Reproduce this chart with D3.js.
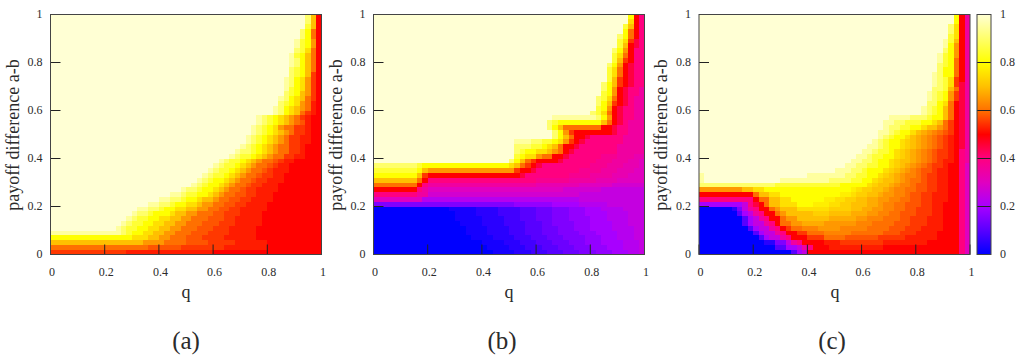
<!DOCTYPE html>
<html>
<head>
    <meta charset="utf-8">
    <title>payoff difference vs q</title>
    <script src="https://d3js.org/d3.v7.min.js"></script>
    <style>
        body { margin: 0; background: #fff; }
        svg { display: block; }
        text { font-family: "Liberation Serif", serif; fill: #2b2b2b; }
        .tick line { stroke: #222; stroke-width: 1px; }
        .tick text { font-size: 12px; }
        .frame { fill: none; stroke: #444; stroke-width: 1px; }
    </style>
</head>
<body>
<div id="chart"></div>
<script>
// each row is one a-b level, top row first. token = level char + column where it stops
// lower case / digits are value*20 (0 = 0, a = 0.5, k = 1), capitals sit half a step above (A = 0.025, K = 0.525)
const fullLevels = "0123456789abcdefghijk";
const halfLevels = "ABCDEFGHIJKLMNOPQRST";

const panelARows = [
    "k47 i48 e49 a", "k47 i48 e49 a", "k47 h48 e49 a", "k46 i47 g48 c49 a", "k46 i47 g48 c49 a",
    "k45 j46 h47 g48 d49 a", "k45 j46 h47 g48 d49 a", "k45 i46 h47 f48 c49 a", "k44 j45 h46 g47 e48 c49 a", "k44 j45 i46 g47 e48 c49 a",
    "k44 j45 i46 g47 e48 c49 a", "k44 i45 h46 g47 e48 c49 a", "k44 i45 h46 g47 e48 b49 a", "k43 j44 i45 g46 f47 d48 b49 a", "k43 j44 i45 g46 f47 d48 b49 a",
    "k43 j44 h45 g46 f47 d48 b49 a", "k43 i44 h45 g46 e47 d48 b49 a", "k42 j43 i44 g45 f46 e47 c48 b49 a", "k42 i43 h44 g45 f46 d47 c48 K49 a", "k41 j42 i43 g44 f45 e46 d47 c48 K49 a",
    "k41 j42 i43 g44 f45 e46 c47 b48 K49 a", "k38 j39 i40 h41 g42 f43 e44 d45 c46 b47 K48 a", "k38 j39 i40 h41 g42 f43 e44 d45 c46 L47 K48 a", "k37 j38 i39 h40 g41 f42 d43 c45 b47 K48 a", "k37 j38 i39 h40 g41 f42 e43 d44 c45 b47 K48 a",
    "k36 j37 i38 h39 g40 f41 e42 d43 c44 b46 K48 a", "k36 j37 i38 h39 g40 f41 e42 d43 c44 b46 K48 a", "k35 j36 i37 h38 g39 f40 e41 d42 c44 b46 K47 a", "k34 j35 i37 h38 g39 f40 e41 d42 c44 b46 K47 a", "k33 j34 i35 h37 g38 f39 e40 d41 c43 b45 K47 a",
    "k31 j32 i33 h35 g36 f37 e38 d39 c41 L42 b43 K45 a", "k30 j31 i32 h34 g35 f36 e37 d38 c40 L41 b42 K44 a", "k29 j30 i31 h33 g34 f35 e36 d37 c39 L40 b41 K44 a", "k28 j29 i30 h32 g33 f34 e35 d36 c38 L39 b41 K43 a", "k27 j28 i29 h30 g32 f33 e34 d35 c37 L38 b40 K43 a",
    "k26 j27 i28 h29 g31 f32 e33 d34 c36 L37 b39 K42 a", "k24 j25 i27 h28 g30 f31 e32 d33 c35 L36 b38 K42 a", "k22 j24 i25 h27 g29 f30 e31 d32 c34 L36 b38 K41 a", "k20 j22 i24 h25 g27 f28 e30 d31 c33 L35 b37 K41 a", "k18 j20 i22 h23 g25 f27 e28 d30 c32 L34 b36 K40 a",
    "k16 j18 i20 h21 g23 f25 e27 d29 c31 L33 b35 K40 a", "k15 j16 i18 h19 g22 f23 e25 d27 c30 L32 b35 K39 a", "k14 j15 i16 h18 g20 f22 e24 d26 c29 L32 b34 K39 a", "k13 j14 i15 h17 g19 f21 e23 d25 c28 L31 b34 K39 a", "k12 j13 i14 h16 g18 f20 e22 d24 c27 L30 b33 K38 a",
    "j13 i14 h15 g17 f19 e21 d23 c26 L29 b33 K38 a", "g15 f18 e20 d22 c25 L28 b32 K38 a", "e17 d21 c25 L29 b34 K40 a", "c18 L24 b32 K40 a", "b14 K30 a"
];
const panelBRows = [
    "k47 g48 a49 8", "k47 f48 a49 8", "k46 h47 e48 a49 8", "k46 g47 c48 a49 8", "k45 i46 g47 c48 a49 8",
    "k45 h46 f47 b48 949 8", "k45 h46 e47 a48 949 8", "k44 i45 g46 d47 a48 8", "k44 h45 f46 c47 a48 8", "k44 h45 e46 b47 a48 8",
    "k43 i44 g45 d46 a47 948 8", "k43 h44 f45 c46 a47 948 8", "k43 h44 f45 c46 a47 948 8", "k43 h44 e45 b46 a47 948 8", "k42 i43 g44 e45 b46 a47 948 8",
    "k42 i43 g44 d45 a46 947 849 7", "k42 h43 g44 d45 a46 947 849 7", "k41 i42 h43 f44 c45 a46 947 848 7", "k41 i42 g43 e44 b45 a46 947 848 7", "k41 h42 g43 d44 a45 946 848 7",
    "k40 i41 h42 f43 c44 a45 946 848 7", "k33 j41 i42 g43 d44 a45 946 848 7", "k32 i33 h34 g42 e43 c44 a45 946 847 7", "k32 i33 g34 e35 c42 a44 945 847 7", "k33 i34 g35 d36 b37 a44 945 847 7",
    "k33 i34 g35 e36 c37 a39 940 846 7", "k26 j29 i31 h33 g34 f35 d36 b37 a38 939 846 7", "k26 i29 h31 g32 f33 e34 c35 a37 938 845 7", "k26 i27 h28 g30 f32 e33 d34 c35 a36 937 845 7", "k26 h27 g28 f30 d31 c33 a35 936 842 H45 748 G",
    "k25 i26 g27 e28 c29 b30 a34 935 841 H44 747 G49 6", "i8 h9 g25 f26 e27 c28 b29 a30 931 840 H43 746 G49 6", "h8 g9 e10 d26 b27 a29 930 838 H42 745 G48 6", "g8 e9 b10 a27 928 836 H40 744 G47 6", "e8 c9 a10 830 H36 741 G45 6",
    "c8 a9 810 730 G38 644 F", "a8 89 710 635 F42 5", "88 710 F38 5", "69 E38 5", "326 D33 438 E43 5",
    "014 A19 123 B27 230 C33 336 D39 442 E46 5", "015 A19 123 B27 230 C33 336 D39 443 E47 5", "015 A20 124 B27 230 C33 336 D40 443 E47 5", "016 A20 124 B28 231 C33 337 D40 444 E47 5", "017 A21 125 B28 231 C34 337 D40 444 E48 5",
    "017 A21 125 B28 231 C34 338 D41 445 E48 5", "018 A22 126 B29 232 C35 339 D42 445 E48 5", "020 A24 127 B30 233 C36 339 D42 446 E49 5", "021 A25 128 B31 234 C37 340 D43 446 E49 5", "022 A26 129 B32 235 C38 341 D44 447 E49 5"
];
const panelCRows = [
    "k47 g48 a49 7", "k47 g48 a49 7", "k46 i47 f48 a49 7", "k46 i47 f48 a49 7", "k46 h47 f48 a49 7",
    "k45 j46 h47 e48 a49 7", "k45 j46 g47 d48 a49 7", "k45 i46 g47 d48 a49 7", "k44 j45 h46 g47 d48 a49 7", "k44 j45 h46 g47 c48 a49 7",
    "k44 i45 h46 g47 c48 a49 7", "k44 i45 g47 c48 a49 7", "k43 j44 i45 g47 c48 a49 7", "k43 j44 i45 h46 f47 b48 a49 7", "k43 j44 i45 h46 f47 b48 949 7",
    "k43 i45 h46 e47 c48 949 7", "k42 j43 i44 h45 g46 d47 b48 949 7", "k42 j43 i44 h45 g46 d47 b48 949 7", "k42 i44 g45 f46 c47 a48 949 7", "k41 j42 i43 h44 g45 e46 c47 a48 949 7",
    "k41 j42 i43 h44 g45 e46 c47 a48 949 7", "k35 j39 i42 h43 g45 e46 c47 a48 949 7", "k34 j36 i38 h41 g43 f44 e45 c46 b47 a48 949 7", "k34 j35 i37 h39 g41 f42 e44 d45 c46 b47 a48 949 7", "k33 j35 i36 h37 g39 f40 e41 N42 d43 M44 c45 L46 b47 a48 949 7",
    "k33 j34 i35 h36 g38 f39 e40 N41 d42 M43 c44 L45 b46 K47 a48 949 7", "k32 j33 i34 h35 g37 f38 O39 e40 N41 d42 M43 c44 L45 b46 K47 a48 949 7", "k31 j33 i34 h35 g37 f38 O39 e40 N41 d42 M43 c44 L45 b46 K47 a48 949 7", "k30 j32 i33 h35 g36 f37 O38 e39 N40 d41 M42 c43 L44 b46 K47 a48 849 7", "k29 j31 i32 h34 g36 f37 O38 e39 N40 d41 M42 c43 L44 b46 K47 a48 849 7",
    "k28 j30 i32 h33 g35 f36 O37 e39 N40 d41 M42 c43 L44 b45 K47 a48 849 7", "k27 j29 i31 h33 g35 f36 O37 e38 N39 d40 M41 c42 L43 b45 K46 a48 849 6", "k25 j28 i30 h31 g34 f35 O36 e37 N38 d39 M40 c41 L43 b44 K46 a48 849 6", "j1 k20 j27 i29 h31 g33 f34 O35 e36 N37 d38 M40 c41 L42 b44 K46 a48 849 6", "j1 k15 j24 i28 h30 g32 f33 O34 e36 N37 d38 M39 c41 L42 b44 K46 a48 849 6",
    "i14 h26 g31 f32 O33 e35 N36 d37 M39 c40 L42 b44 K46 a48 849 6", "d8 e10 f12 g28 P29 f30 O32 e34 N35 d36 M38 c40 L42 b44 K46 a48 849 6", "a10 c11 e13 f15 g26 P28 f29 O31 e33 N34 d36 M38 c39 L41 b43 K46 a48 849 6", "810 a11 c13 e15 f17 g23 P25 f27 O29 e31 N33 d35 M37 c39 L41 b43 K46 a48 849 6", "48 59 810 911 a12 c13 e15 f18 g21 P24 f26 O28 e31 N33 d34 M36 c38 L41 b43 K45 a48 849 6",
    "06 17 38 59 710 811 a13 c14 d15 e18 f24 O28 e30 N32 d34 M36 c38 L40 b43 K45 a48 849 6", "07 28 49 510 711 812 a14 c15 d16 e21 O24 e28 N31 d33 M35 c37 L40 b43 K45 a48 849 6", "08 29 410 511 712 813 a15 c16 d18 e24 N29 d31 M34 c37 L39 b42 K45 a48 849 6", "08 29 410 512 713 814 a15 c17 d19 N23 d29 M32 c36 L39 b42 K45 a48 849 6", "09 210 411 513 714 815 a16 b17 c19 M22 d26 M31 c35 L38 b41 K45 a48 849 6",
    "010 211 412 514 715 816 a18 b20 c23 M28 c34 L37 b40 K44 a48 849 6", "011 212 413 515 716 817 a20 b23 c27 L33 b38 K44 a48 849 6", "012 114 316 517 718 819 a23 K26 b34 K42 a48 849 6", "014 216 418 519 720 821 a24 K34 a48 849 6", "017 218 419 520 a48 849 6"
];

const xTicks = [0, 0.2, 0.4, 0.6, 0.8, 1];
const yTicks = [0, 0.2, 0.4, 0.6, 0.8, 1];
const panelLabels = ["(a)", "(b)", "(c)"];
const paletteStops = [0, 0.1, 0.2, 0.3, 0.4, 0.5, 0.6, 0.7, 0.8, 1];
const paletteColors = ["#0000ff", "#5800ff", "#a800ff", "#e000c0", "#ff0080", "#ff0000", "#ff7000", "#ffc000", "#ffff00", "#ffffd4"];

const width = 1024, height = 360;
const plotW = 271, plotH = 240, plotTop = 14.5;
const nCols = 50, nRows = 50;

const color = d3.scaleLinear().domain(paletteStops).range(paletteColors);

function levelValue(ch) {
    const i = fullLevels.indexOf(ch);
    return i >= 0 ? i / 20 : (halfLevels.indexOf(ch) + 0.5) / 20;
}

function decodeRow(row) {
    let cells = [], start = 0;
    row.split(" ").forEach(tok => {
        let end = tok.length > 1 ? +tok.slice(1) : nCols;
        for (let c = start; c < end; c++) cells.push(levelValue(tok[0]));
        start = end;
    });
    return cells;
}

const svg = d3.select("#chart").append("svg").attr("width", width).attr("height", height);
const defs = svg.append("defs");
defs.append("filter").attr("id", "soften")
    .append("feGaussianBlur").attr("stdDeviation", 0.55);

const panels = [
    {rows: panelARows, left: 50.5, labelX: 186, tagX: 186},
    {rows: panelBRows, left: 373.5, labelX: 509, tagX: 502},
    {rows: panelCRows, left: 699, labelX: 835, tagX: 832}
];

panels.forEach((p, i) => {
    const x = d3.scaleLinear().domain([0, 1]).range([p.left, p.left + plotW]);
    const y = d3.scaleLinear().domain([0, 1]).range([plotTop + plotH, plotTop]);
    const g = svg.append("g");

    defs.append("clipPath").attr("id", "plot" + i).append("rect")
        .attr("x", p.left).attr("y", plotTop).attr("width", plotW).attr("height", plotH);

    const heat = g.append("g").attr("clip-path", `url(#plot${i})`)
        .append("g").attr("filter", "url(#soften)");

    p.rows.forEach((row, n) => {
        heat.append("g").selectAll("rect")
            .data(decodeRow(row))
            .enter()
            .append("rect")
            .attr("x", (d, c) => x(c / nCols))
            .attr("y", y(1 - n / nRows))
            .attr("width", plotW / nCols + 0.5)
            .attr("height", plotH / nRows + 0.5)
            .attr("shape-rendering", "crispEdges")
            .attr("fill", d => color(d));
    });

    g.append("g")
        .attr("transform", `translate(0,${plotTop + plotH})`)
        .call(d3.axisBottom(x).tickValues(xTicks).tickFormat(d3.format("~g")).tickSize(-10).tickPadding(13).offset(0))
        .call(a => a.select(".domain").remove())
        .selectAll("text").attr("dx", 1.5);

    g.append("g")
        .attr("transform", `translate(${p.left},0)`)
        .call(d3.axisLeft(y).tickValues(yTicks).tickFormat(d3.format("~g")).tickSize(-10).tickPadding(8).offset(0))
        .call(a => a.select(".domain").remove());

    g.append("rect").attr("class", "frame")
        .attr("x", p.left).attr("y", plotTop).attr("width", plotW).attr("height", plotH);

    g.append("text")
        .attr("transform", `translate(${p.left - 32},${plotTop + 120.5}) rotate(-90)`)
        .attr("text-anchor", "middle").attr("font-size", 18)
        .text("payoff difference a-b");

    g.append("text").attr("x", p.labelX).attr("y", 298)
        .attr("text-anchor", "middle").attr("font-size", 18).text("q");

    g.append("text").attr("x", p.tagX).attr("y", 349)
        .attr("text-anchor", "middle").attr("font-size", 25).text(panelLabels[i]);
});

// colour box
const barX = 977, barW = 14;
const cbar = d3.scaleLinear().domain([0, 1]).range([plotTop + plotH, plotTop]);
const grad = defs.append("linearGradient")
    .attr("id", "cbarGrad").attr("x1", 0).attr("x2", 0).attr("y1", 1).attr("y2", 0);
paletteStops.forEach((s, i) => grad.append("stop").attr("offset", s).attr("stop-color", paletteColors[i]));
svg.append("rect").attr("x", barX).attr("y", plotTop).attr("width", barW).attr("height", plotH)
    .attr("fill", "url(#cbarGrad)");
svg.append("g")
    .attr("transform", `translate(${barX},0)`)
    .call(d3.axisLeft(cbar).tickValues(yTicks).tickFormat(d3.format("~g")).tickSize(-barW).tickPadding(-barW - 9).offset(0))
    .call(a => a.select(".domain").remove())
    .selectAll("text").attr("text-anchor", "start");
svg.append("rect").attr("class", "frame")
    .attr("x", barX).attr("y", plotTop).attr("width", barW).attr("height", plotH);
</script>
</body>
</html>
